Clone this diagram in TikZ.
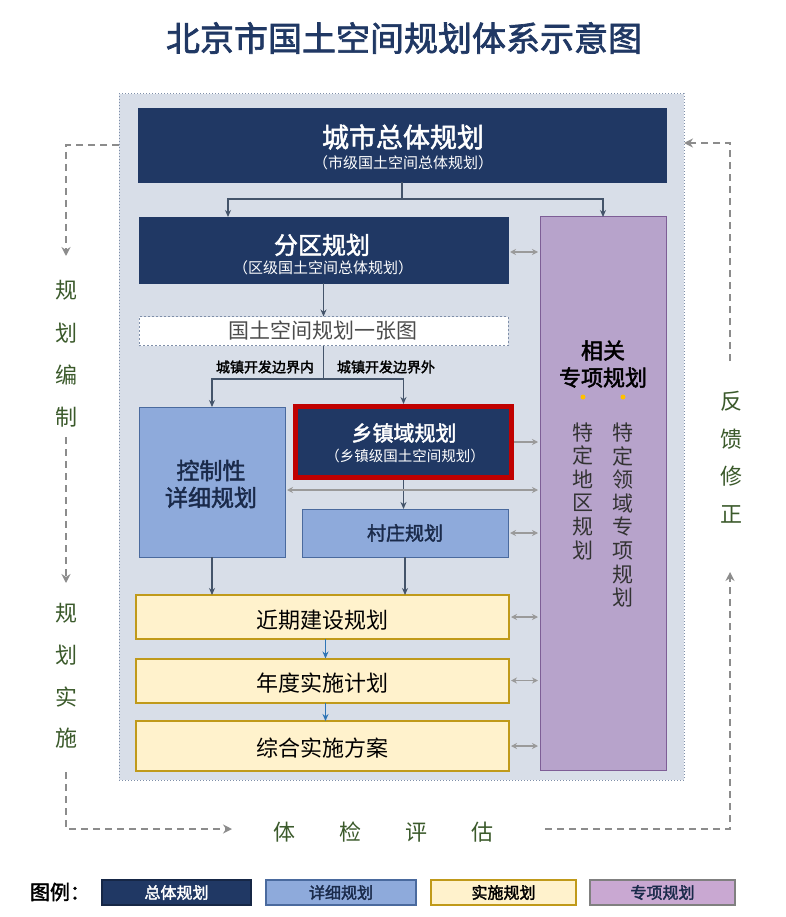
\documentclass[tikz,border=0pt]{standalone}
\usepackage{fontspec}
\setmainfont{Noto Sans CJK SC}[AutoFakeBold=2]
\usetikzlibrary{arrows.meta}
\definecolor{navy}{HTML}{203864}
\definecolor{navytxt}{HTML}{1A2A4A}
\definecolor{panelbg}{HTML}{D8DEE8}
\definecolor{panelb}{HTML}{7F8FA9}
\definecolor{lblue}{HTML}{8EAADB}
\definecolor{lblueb}{HTML}{4A6A9E}
\definecolor{lyel}{HTML}{FFF2CC}
\definecolor{gold}{HTML}{C09A1A}
\definecolor{purp}{HTML}{B7A3CB}
\definecolor{purpb}{HTML}{7E5E96}
\definecolor{lgpurp}{HTML}{C9A8D2}
\definecolor{redb}{HTML}{C00000}
\definecolor{arrc}{HTML}{44546A}
\definecolor{barrc}{HTML}{2E75B6}
\definecolor{grayc}{HTML}{9A9A9A}
\definecolor{loopc}{HTML}{8C8C8C}
\definecolor{greentxt}{HTML}{3B5A2B}
\definecolor{dotc}{HTML}{FFC000}
\definecolor{coltxt}{HTML}{333333}
\begin{document}
\begin{tikzpicture}[x=1pt,y=-1pt,
  blk/.style={rectangle, inner sep=0pt, outer sep=0pt, align=center},
  navybox/.style={blk, fill=navy, draw=navy},
  bluebox/.style={blk, fill=lblue, draw=lblueb, line width=0.8pt},
  yelbox/.style={blk, fill=lyel, draw=gold, line width=2pt},
  txt/.style={inner sep=0pt, outer sep=0pt, align=center},
  wtxt/.style={txt, text=white},
  arr/.style={draw=arrc, line width=1.1pt, -{Stealth[length=7pt,width=6pt]}},
  barr/.style={draw=barrc, line width=1.1pt, -{Stealth[length=7pt,width=6pt]}},
  darr/.style={draw=grayc, line width=1.2pt, {Stealth[length=6pt,width=6pt]}-{Stealth[length=6pt,width=6pt]}, shorten <=2pt, shorten >=2pt},
  sarr/.style={draw=grayc, line width=1.2pt, -{Stealth[length=6pt,width=6pt]}, shorten >=2pt},
  looparr/.style={draw=loopc, line width=1.6pt, dash pattern=on 7pt off 5pt, -{Stealth[length=9pt,width=9pt]}},
  sidetxt/.style={txt, text=greentxt},
  lgbox/.style={blk, minimum width=146pt, minimum height=25pt, line width=1.2pt, font=\fontsize{16}{18}\selectfont\bfseries}
]
\path[use as bounding box, fill=white] (0,0) rectangle (785,917);

% title
\node[txt, text=navy, font=\fontsize{34}{38}\selectfont\bfseries] (title) at (404,38) {北京市国土空间规划体系示意图};

% panel
\node[blk, fill=panelbg, draw=panelb, dotted, line width=1pt, minimum width=565pt, minimum height=686pt] (panel) at (401.5,437) {};

% city master plan
\node[navybox, minimum width=528pt, minimum height=74pt] (zt) at (402,145) {};
\node[wtxt, font=\fontsize{27}{30}\selectfont\bfseries] (ztt) at (403,137) {城市总体规划};
\node[wtxt, font=\fontsize{15}{17}\selectfont] (zts) at (403,163) {（市级国土空间总体规划）};

% district plan
\node[navybox, minimum width=369pt, minimum height=66pt] (fq) at (323.5,250) {};
\node[wtxt, font=\fontsize{24}{27}\selectfont\bfseries] (fqt) at (322,245) {分区规划};
\node[wtxt, font=\fontsize{15}{17}\selectfont] (fqs) at (323,268) {（区级国土空间总体规划）};

% special plans
\node[blk, fill=purp, draw=purpb, line width=1pt, minimum width=126pt, minimum height=553pt] (zx) at (603,493.5) {};
\node[txt, text=black, font=\fontsize{22}{27}\selectfont\bfseries] (zxt) at (603,364) {相关\\专项规划};
\node[circle, fill=dotc, inner sep=0pt, minimum size=5pt] (dot1) at (583,397) {};
\node[circle, fill=dotc, inner sep=0pt, minimum size=5pt] (dot2) at (623,397) {};
\node[txt, text=coltxt, font=\fontsize{21}{23.6}\selectfont] (col1) at (583,491) {特\\定\\地\\区\\规\\划};
\node[txt, text=coltxt, font=\fontsize{21}{23.6}\selectfont] (col2) at (623,515) {特\\定\\领\\域\\专\\项\\规\\划};

% one map
\node[blk, fill=white, draw=panelb, dash pattern=on 2pt off 2pt, line width=0.9pt, minimum width=369pt, minimum height=29pt] (yzt) at (323.5,331) {};
\node[txt, text=black!70, font=\fontsize{21}{24}\selectfont] (yztt) at (323,331) {国土空间规划一张图};

\node[txt, text=black, font=\fontsize{14}{16}\selectfont\bfseries] (lab1) at (265,367) {城镇开发边界内};
\node[txt, text=black, font=\fontsize{14}{16}\selectfont\bfseries] (lab2) at (386,367) {城镇开发边界外};

% detailed plan
\node[bluebox, minimum width=146pt, minimum height=150pt] (kg) at (212,482) {};
\node[txt, text=navytxt, font=\fontsize{23}{27}\selectfont\bfseries] (kgt) at (211,484) {控制性\\详细规划};

% township plan
\node[blk, fill=navy, draw=redb, line width=5pt, outer sep=2.5pt, minimum width=216pt, minimum height=71pt] (xz) at (403.5,442) {};
\node[wtxt, font=\fontsize{21}{24}\selectfont\bfseries] (xzt) at (404,433) {乡镇域规划};
\node[wtxt, font=\fontsize{14.5}{17}\selectfont] (xzs) at (405,456) {（乡镇级国土空间规划）};

% village plan
\node[bluebox, minimum width=206pt, minimum height=48pt] (cz) at (405,533) {};
\node[txt, text=navytxt, font=\fontsize{19}{22}\selectfont\bfseries] (czt) at (405,533) {村庄规划};

% implementation
\node[yelbox, minimum width=373pt, minimum height=44pt] (jq) at (322.5,617) {};
\node[txt, text=black, font=\fontsize{22}{25}\selectfont] (jqt) at (322,620) {近期建设规划};
\node[yelbox, minimum width=373pt, minimum height=44pt] (nd) at (322.5,680.5) {};
\node[txt, text=black, font=\fontsize{22}{25}\selectfont] (ndt) at (322,683) {年度实施计划};
\node[yelbox, minimum width=373pt, minimum height=50pt] (zh) at (322.5,746) {};
\node[txt, text=black, font=\fontsize{22}{25}\selectfont] (zht) at (322,748) {综合实施方案};

% connectors
\coordinate (j1) at (402,199);
\coordinate (j2) at (323.5,379);
\draw[arr] (zt.south) -- (j1) -| ([xshift=-95.5pt]fq.north);
\draw[arr] (j1) -| (zx.north);
\draw[arr] (fq.south) -- (yzt.north);
\draw[arr] (yzt.south) -- (j2) -| (kg.north);
\draw[arr] (j2) -| (xz.north);
\draw[arr] (xz.south) -- (xz.south |- cz.north);
\draw[arr] (kg.south) -- (kg.south |- jq.north);
\draw[arr] (cz.south) -- (cz.south |- jq.north);
\draw[barr] ([xshift=3pt]jq.south) -- ([xshift=3pt]jq.south |- nd.north);
\draw[barr] ([xshift=3pt]nd.south) -- ([xshift=3pt]nd.south |- zh.north);

\draw[darr] ([yshift=-2pt]fq.east) -- ([yshift=-2pt]fq.east -| zx.west);
\draw[darr] ([yshift=-8pt]kg.east) -- ([yshift=-8pt]kg.east -| zx.west);
\draw[sarr] (xz.east) -- (xz.east -| zx.west);
\draw[darr] (cz.east) -- (cz.east -| zx.west);
\draw[darr] (jq.east) -- (jq.east -| zx.west);
\draw[darr] (nd.east) -- (nd.east -| zx.west);
\draw[darr] (zh.east) -- (zh.east -| zx.west);

% side loop texts
\node[sidetxt, font=\fontsize{22}{42.3}\selectfont] (bz) at (66,354) {规\\划\\编\\制};
\node[sidetxt, font=\fontsize{22}{41.7}\selectfont] (ss) at (66,676) {规\\划\\实\\施};
\node[sidetxt, font=\fontsize{22}{37.5}\selectfont] (fk) at (731,457) {反\\馈\\修\\正};
\node[sidetxt, font=\fontsize{22}{25}\selectfont] (tj) at (383.5,832) {体\hspace{44pt}检\hspace{44pt}评\hspace{44pt}估};

\coordinate (L1) at (66,145);
\coordinate (L2) at (66,256);
\coordinate (L3) at (66,437);
\coordinate (L4) at (66,583);
\coordinate (L5) at (66,772);
\coordinate (L6) at (66,829);
\coordinate (L7) at (232,829);
\coordinate (R1) at (545,829);
\coordinate (R2) at (730,829);
\coordinate (R3) at (730,572);
\coordinate (R4) at (730,361);
\coordinate (R5) at (730,143);
\draw[looparr] (panel.west |- L1) -- (L1) -- (L2);
\draw[looparr] (L3) -- (L4);
\draw[looparr] (L5) -- (L6) -- (L7);
\draw[looparr] (R1) -- (R2) -- (R3);
\draw[looparr] (R4) -- (R5) -- (panel.east |- R5);

% legend
\node[txt, text=black, font=\fontsize{20}{22}\selectfont\bfseries] (lgt) at (60,892) {图例：};
\node[lgbox, fill=navy, draw=navy!70!black, text=white, minimum width=149pt] (lg1) at (176.5,892.5) {总体规划};
\node[lgbox, fill=lblue, draw=lblueb, text=navytxt, minimum width=150pt] (lg2) at (341,892.5) {详细规划};
\node[lgbox, fill=lyel, draw=gold, text=black, minimum width=145pt] (lg3) at (503.5,892.5) {实施规划};
\node[lgbox, fill=lgpurp, draw=gray, text=navytxt, minimum width=145pt] (lg4) at (662.5,892.5) {专项规划};
\end{tikzpicture}
\end{document}
